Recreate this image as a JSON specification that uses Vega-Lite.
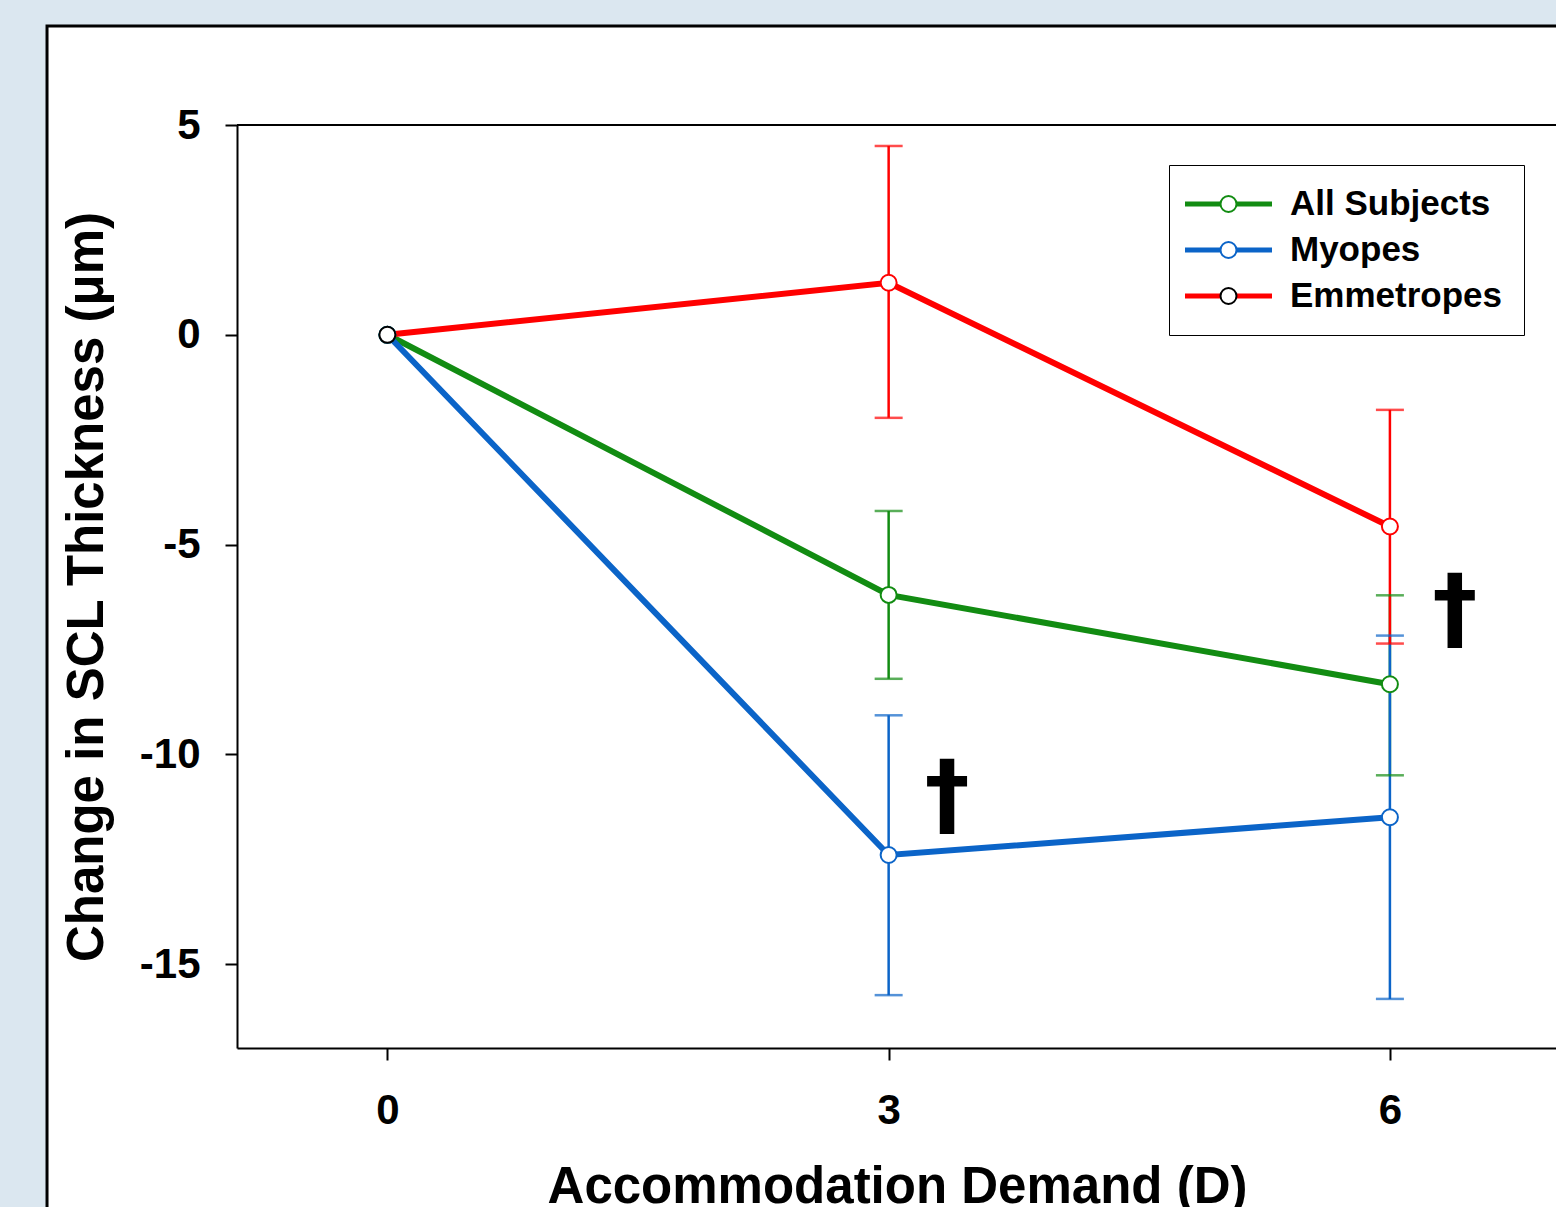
{
  "$schema": "https://vega.github.io/schema/vega-lite/v6.json",
  "width": 1320,
  "height": 923,
  "autosize": "none",
  "padding": {"left": 237, "top": 125, "right": 0, "bottom": 160},
  "background": "#dbe7f0",
  "config": {
    "view": {"stroke": null},
    "font": "Liberation Sans",
    "axis": {
      "grid": false,
      "domainColor": "black", "domainWidth": 2,
      "tickColor": "black", "tickWidth": 2, "tickSize": 12,
      "labelFont": "Liberation Sans", "labelFontWeight": "bold", "labelFontSize": 42, "labelColor": "black",
      "titleFont": "Liberation Sans", "titleFontWeight": "bold", "titleColor": "black"
    }
  },
  "datasets": {
    "groups": [
      {"series": "All Subjects", "demand": 0, "change": 0, "lo": null, "hi": null},
      {"series": "Myopes", "demand": 0, "change": 0, "lo": null, "hi": null},
      {"series": "Emmetropes", "demand": 0, "change": 0, "lo": null, "hi": null},
      {"series": "All Subjects", "demand": 3, "change": -6.2, "lo": -8.2, "hi": -4.2},
      {"series": "Myopes", "demand": 3, "change": -12.4, "lo": -15.74, "hi": -9.07},
      {"series": "Emmetropes", "demand": 3, "change": 1.24, "lo": -1.98, "hi": 4.5},
      {"series": "All Subjects", "demand": 6, "change": -8.33, "lo": -10.5, "hi": -6.21},
      {"series": "Myopes", "demand": 6, "change": -11.5, "lo": -15.83, "hi": -7.17},
      {"series": "Emmetropes", "demand": 6, "change": -4.57, "lo": -7.36, "hi": -1.79}
    ],
    "signif": [
      {"demand": 3.35, "change": -11.05, "label": "†"},
      {"demand": 6.39, "change": -6.6, "label": "†"}
    ],
    "one": [{}]
  },
  "layer": [
    {
      "data": {"name": "one"},
      "mark": {"type": "rect", "fill": "white", "stroke": "black", "strokeWidth": 3},
      "encoding": {
        "x": {"datum": -2.037, "type": "quantitative"},
        "x2": {"datum": 9},
        "y": {"datum": 7.36, "type": "quantitative"},
        "y2": {"datum": -25}
      }
    },
    {
      "data": {"name": "one"},
      "mark": {"type": "rule", "color": "black", "strokeWidth": 2},
      "encoding": {
        "y": {"datum": 5, "type": "quantitative"}
      }
    },
    {
      "data": {"name": "groups"},
      "mark": {"type": "line", "strokeWidth": 6},
      "encoding": {
        "x": {"field": "demand", "type": "quantitative",
              "scale": {"domain": [-0.9, 7], "nice": false, "zero": false},
              "axis": {"zindex": 1, "values": [0, 3, 6], "format": "d", "title": "Accommodation Demand (D)", "titleFontSize": 51, "labelPadding": 30, "titlePadding": 31}},
        "y": {"field": "change", "type": "quantitative",
              "scale": {"domain": [-17, 5], "nice": false, "zero": false},
              "axis": {"zindex": 1, "values": [-15, -10, -5, 0, 5], "labelExpr": "datum.value < 0 ? '-' + abs(datum.value) : '' + datum.value", "title": "Change in SCL Thickness (μm)", "titleFontSize": 51, "labelPadding": 25, "titlePadding": 26}},
        "color": {"field": "series", "type": "nominal",
                  "scale": {"domain": ["All Subjects", "Myopes", "Emmetropes"], "range": ["#128c12", "#0b64c8", "#ff0000"]},
                  "legend": {"orient": "none", "legendX": 945.5, "legendY": 58, "title": null,
                             "symbolType": "stroke", "symbolSize": 7569, "symbolStrokeWidth": 5,
                             "clipHeight": 42, "rowPadding": 4, "padding": 0,
                             "labelFont": "Liberation Sans", "labelFontSize": 35, "labelFontWeight": "bold", "labelColor": "black",
                             "labelOffset": 15.5, "labelLimit": 400, "zindex": 1}}
      }
    },
    {
      "data": {"name": "groups"},
      "mark": {"type": "rule", "strokeWidth": 2.5},
      "encoding": {
        "x": {"field": "demand", "type": "quantitative"},
        "y": {"field": "lo", "type": "quantitative"},
        "y2": {"field": "hi"},
        "color": {"field": "series", "type": "nominal", "legend": null}
      }
    },
    {
      "data": {"name": "groups"},
      "mark": {"type": "tick", "orient": "horizontal", "size": 28, "thickness": 2.5},
      "encoding": {
        "x": {"field": "demand", "type": "quantitative"},
        "y": {"field": "lo", "type": "quantitative"},
        "color": {"field": "series", "type": "nominal", "legend": null}
      }
    },
    {
      "data": {"name": "groups"},
      "mark": {"type": "tick", "orient": "horizontal", "size": 28, "thickness": 2.5},
      "encoding": {
        "x": {"field": "demand", "type": "quantitative"},
        "y": {"field": "hi", "type": "quantitative"},
        "color": {"field": "series", "type": "nominal", "legend": null}
      }
    },
    {
      "data": {"name": "groups"},
      "transform": [{"filter": "datum.demand > 0"}],
      "mark": {"type": "point", "filled": false, "fill": "white", "size": 256, "strokeWidth": 2, "opacity": 1},
      "encoding": {
        "x": {"field": "demand", "type": "quantitative"},
        "y": {"field": "change", "type": "quantitative"},
        "color": {"field": "series", "type": "nominal", "legend": null}
      }
    },
    {
      "data": {"name": "groups"},
      "transform": [{"filter": "datum.demand == 0"}],
      "mark": {"type": "point", "filled": true, "fill": "white", "size": 256, "strokeWidth": 2, "opacity": 1},
      "encoding": {
        "x": {"field": "demand", "type": "quantitative"},
        "y": {"field": "change", "type": "quantitative"},
        "stroke": {"field": "series", "type": "nominal", "sort": ["All Subjects", "Myopes", "Emmetropes"],
                   "scale": {"range": ["#128c12", "#0b64c8", "#000000"]},
                   "legend": {"orient": "none", "legendX": 932, "legendY": 40, "title": null,
                              "symbolType": "circle", "symbolSize": 256, "symbolStrokeWidth": 2, "symbolFillColor": "white",
                              "clipHeight": 42, "rowPadding": 4, "padding": 18, "symbolOffset": 24,
                              "strokeColor": "black",
                              "encode": {"legend": {"update": {"strokeWidth": {"value": 2.5}}}},
                              "labelFont": "Liberation Sans", "labelFontSize": 35, "labelFontWeight": "bold", "labelOpacity": 0,
                              "labelOffset": 47, "labelLimit": 400, "zindex": 2}}
      }
    },
    {
      "data": {"name": "signif"},
      "mark": {"type": "text", "fontSize": 90, "fontWeight": "bold", "font": "DejaVu Sans", "color": "black", "align": "center", "baseline": "middle"},
      "encoding": {
        "x": {"field": "demand", "type": "quantitative"},
        "y": {"field": "change", "type": "quantitative"},
        "text": {"field": "label"}
      }
    }
  ]
}
